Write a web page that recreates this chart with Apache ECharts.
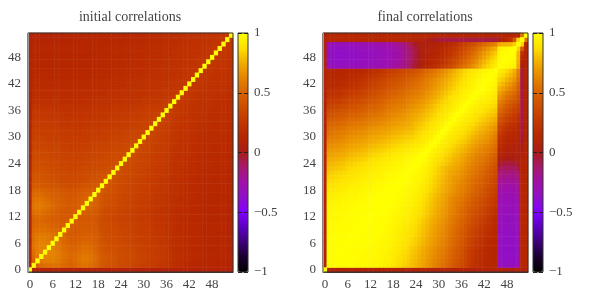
<!DOCTYPE html>
<html><head><meta charset="utf-8">
<style>html,body{margin:0;padding:0;background:#fff}#c{width:591px;height:295px}</style>
<script src="https://cdn.jsdelivr.net/npm/echarts@6/dist/echarts.min.js"></script>
</head><body><div id="c"></div>
<script>
const titles = ['initial correlations','final correlations'];
const barTicks = [-1,-0.5,0,0.5,1];
const palette = ['#000000','#1a0030','#3c0078','#5c00c0','#8000ff','#9010c8','#a010a8','#a81870','#a81c18','#b62600','#c23600','#cd4c00','#d96400','#e68400','#f2ac00','#fde000','#ffff00'];
// Symmetric matrices in percent: row i holds columns 0..i.
const initialRows = [
[100],
[8,100],
[8,48,100],
[8,52,58,100],
[8,54,60,62,100],
[8,55,60,62,62,100],
[8,55,60,62,62,60,100],
[8,54,58,60,60,58,56,100],
[8,54,57,58,58,57,55,54,100],
[8,52,54,55,55,53,52,51,50,100],
[8,50,52,53,53,51,50,48,47,48,100],
[8,48,50,51,50,49,47,46,45,45,46,100],
[8,50,52,52,51,49,47,46,45,44,44,45,100],
[8,53,55,55,53,51,49,47,46,45,44,44,45,100],
[8,56,58,58,56,54,51,49,47,46,45,45,45,47,100],
[8,56,58,58,56,54,52,49,47,46,45,45,45,47,50,100],
[8,54,56,56,54,52,50,48,47,46,45,44,44,46,49,50,100],
[8,51,53,53,51,50,48,47,46,45,44,43,43,45,47,48,49,100],
[8,49,50,50,49,47,46,45,44,43,42,41,42,43,45,46,47,47,100],
[8,44,45,45,44,43,42,41,40,39,38,38,38,39,41,42,43,43,44,100],
[8,42,43,43,42,41,40,39,38,37,37,36,36,37,38,39,40,40,41,42,100],
[8,41,42,42,41,40,39,38,37,36,36,35,35,36,37,38,39,39,40,41,42,100],
[8,40,41,41,40,39,38,37,36,36,35,34,34,35,36,37,38,38,39,39,40,41,100],
[8,38,39,39,39,38,37,36,35,35,34,33,33,34,35,36,36,37,37,38,38,39,40,100],
[8,37,38,38,38,37,36,35,34,34,33,32,32,33,34,34,35,35,36,36,37,37,38,39,100],
[8,36,37,37,37,36,35,34,33,33,32,32,31,32,33,33,34,34,35,35,36,36,37,37,38,100],
[8,35,36,36,36,35,34,33,33,32,32,31,31,31,32,32,33,33,34,34,35,35,36,36,37,38,100],
[8,34,35,35,35,34,33,32,32,31,31,30,30,30,31,31,32,32,33,33,34,34,35,35,36,36,37,100],
[8,32,33,33,33,32,32,31,31,30,30,29,29,29,30,30,31,31,32,32,32,33,33,34,34,35,36,37,100],
[8,31,32,32,32,31,31,30,30,29,29,28,28,28,29,29,30,30,31,31,31,32,32,33,33,34,34,35,36,100],
[8,30,31,31,31,30,30,29,29,28,28,27,27,27,28,28,29,29,29,30,30,31,31,32,32,33,33,34,34,35,100],
[8,29,30,30,30,30,29,29,28,28,27,27,26,26,27,27,28,28,28,29,29,30,30,30,31,31,32,32,33,33,34,100],
[8,28,29,29,29,29,28,28,27,27,26,26,25,25,26,26,27,27,27,28,28,28,29,29,30,30,30,31,31,32,32,33,100],
[8,27,28,28,28,28,27,27,26,26,25,25,24,24,25,25,26,26,26,27,27,27,28,28,29,29,29,30,30,31,31,32,32,100],
[8,26,27,27,27,27,26,26,25,25,24,24,24,24,24,25,25,25,26,26,26,27,27,27,28,28,28,29,29,30,30,31,31,32,100],
[8,25,26,26,26,26,25,25,24,24,23,23,23,23,23,24,24,24,25,25,25,26,26,26,27,27,27,28,28,29,29,30,30,31,31,100],
[8,24,25,25,25,25,24,24,23,23,22,22,22,22,22,23,23,23,24,24,24,25,25,25,26,26,26,27,27,27,28,28,29,29,30,30,100],
[8,22,23,23,23,23,22,22,22,21,21,21,20,20,21,21,22,22,22,23,23,23,24,24,24,25,25,25,26,26,26,27,27,28,28,29,30,100],
[8,19,20,20,20,20,20,20,19,19,19,19,19,19,19,20,20,20,21,21,21,21,22,22,22,23,23,23,24,24,25,25,25,26,26,27,27,28,100],
[8,18,19,19,19,19,19,19,19,18,18,18,18,18,19,19,19,20,20,20,20,21,21,21,22,22,22,23,23,23,24,24,25,25,25,26,26,27,28,100],
[8,17,18,18,18,18,18,18,18,18,17,17,17,17,18,18,18,19,19,19,19,20,20,20,21,21,21,22,22,22,23,23,23,24,24,25,25,25,26,27,100],
[8,16,17,17,17,17,17,17,17,17,17,16,16,17,17,17,17,18,18,18,18,19,19,19,20,20,20,21,21,21,22,22,22,23,23,24,24,24,25,25,26,100],
[8,15,16,16,16,16,16,16,16,16,16,16,16,16,16,16,17,17,17,17,18,18,18,19,19,19,20,20,20,21,21,21,22,22,23,23,23,24,24,25,25,26,100],
[8,14,15,15,15,15,15,15,15,15,15,15,15,15,15,15,16,16,16,16,17,17,17,18,18,18,19,19,19,20,20,20,21,21,22,22,22,23,23,24,24,25,25,100],
[8,14,14,15,15,15,15,15,15,15,15,15,15,15,15,15,15,15,16,16,16,16,17,17,17,18,18,18,19,19,19,20,20,20,21,21,21,22,22,23,23,24,24,25,100],
[8,13,14,14,14,14,14,14,14,14,14,14,14,14,14,14,15,15,15,15,16,16,16,16,17,17,17,18,18,18,19,19,19,20,20,21,21,21,22,22,23,23,24,24,25,100],
[8,13,13,13,13,13,13,13,13,13,13,13,13,13,13,14,14,14,14,15,15,15,15,16,16,16,17,17,17,18,18,18,19,19,20,20,20,21,21,22,22,23,23,24,24,25,100],
[8,12,13,13,13,13,13,13,13,13,13,13,13,13,13,13,14,14,14,14,15,15,15,15,16,16,16,17,17,17,18,18,18,19,19,19,20,20,21,21,22,22,23,23,24,24,25,100],
[8,12,12,13,13,13,13,13,13,13,13,13,13,13,13,13,13,14,14,14,14,15,15,15,15,16,16,16,17,17,17,18,18,18,19,19,19,20,20,21,21,22,22,23,23,24,24,25,100],
[8,12,12,12,12,12,12,12,12,12,12,12,12,13,13,13,13,13,14,14,14,14,15,15,15,15,16,16,16,17,17,17,18,18,18,19,19,19,20,20,21,21,22,22,23,23,24,24,25,100],
[8,12,12,12,12,12,12,12,12,12,12,12,12,12,12,13,13,13,13,14,14,14,14,15,15,15,15,16,16,16,17,17,17,18,18,18,19,19,19,20,20,21,21,22,22,23,23,24,24,25,100],
[8,11,11,12,12,12,12,12,12,12,12,12,12,12,12,12,13,13,13,13,14,14,14,14,15,15,15,15,16,16,16,17,17,17,18,18,18,19,19,19,20,20,21,21,22,22,23,23,24,24,25,100],
[8,11,11,11,11,11,11,11,11,11,11,11,11,12,12,12,12,12,13,13,13,13,14,14,14,14,15,15,15,16,16,16,16,17,17,17,18,18,18,19,19,20,20,21,21,22,22,23,23,24,24,25,100],
[8,10,10,10,10,10,10,10,10,10,11,11,11,11,11,12,12,12,12,13,13,13,13,14,14,14,14,15,15,15,15,16,16,16,17,17,17,18,18,18,19,19,20,20,21,21,22,22,23,23,24,24,25,100]
];
const finalRows = [
[100],
[8,99],
[8,99,99],
[8,99,99,100],
[8,99,99,99,100],
[8,99,99,99,100,100],
[8,99,99,99,99,100,100],
[8,99,99,99,99,99,100,100],
[8,98,99,99,99,99,99,100,100],
[8,98,98,99,99,99,99,99,100,100],
[8,98,98,98,99,99,99,99,99,100,100],
[8,97,98,98,98,99,99,99,99,99,100,100],
[8,97,97,98,98,98,99,99,99,99,99,100,100],
[8,96,97,97,98,98,98,99,99,99,99,99,100,100],
[8,96,96,97,97,97,98,98,99,99,99,99,99,100,100],
[8,95,96,96,96,97,97,98,98,99,99,99,99,100,100,100],
[8,93,94,95,95,96,96,97,97,98,98,99,99,99,100,100,100],
[8,92,93,93,94,95,95,96,96,97,97,98,98,99,99,100,100,100],
[8,90,91,92,92,93,94,95,95,96,96,97,97,98,99,99,100,100,100],
[8,88,89,90,91,91,92,93,94,94,95,96,96,97,98,98,99,99,100,100],
[8,86,87,88,89,90,90,91,92,93,94,95,95,96,97,97,98,99,99,100,100],
[8,84,85,86,87,88,89,90,90,91,92,93,94,95,95,96,97,98,98,99,99,100],
[8,82,83,84,85,86,87,88,89,90,91,92,93,94,94,95,96,97,97,98,99,99,100],
[8,79,80,81,82,83,85,86,87,88,89,90,91,92,93,94,95,95,96,97,97,98,99,100],
[8,77,78,79,80,81,83,84,85,86,87,88,89,90,91,92,93,94,95,96,96,97,98,99,100],
[8,74,75,76,77,78,80,81,82,83,84,85,87,88,89,90,91,92,93,94,95,96,97,98,99,100],
[8,71,72,73,74,75,77,78,79,80,81,82,84,85,86,87,88,89,91,92,93,94,95,96,97,99,100],
[8,68,69,70,71,72,74,75,76,77,78,79,81,82,83,84,85,86,88,89,90,91,92,93,95,96,98,100],
[8,65,66,67,68,69,71,72,73,74,75,76,78,79,80,81,82,83,85,86,87,88,89,90,92,93,95,97,100],
[8,62,63,64,65,66,68,69,70,71,72,73,75,76,77,78,79,80,82,83,84,85,86,87,89,90,92,94,97,100],
[8,58,60,61,62,63,65,66,67,68,69,70,72,73,74,75,76,77,79,80,81,82,83,84,86,88,90,92,94,97,100],
[8,55,57,58,59,60,62,63,64,65,66,67,69,70,71,72,73,74,76,77,78,79,80,81,84,86,88,90,92,94,97,100],
[8,52,54,55,56,57,59,60,61,62,63,64,66,67,68,69,70,71,73,74,75,76,77,78,81,83,85,87,90,92,94,97,100],
[8,48,50,51,52,53,55,56,57,58,59,60,62,63,64,65,66,68,70,71,72,73,74,76,79,81,83,85,88,90,92,94,97,100],
[8,44,46,47,48,49,51,52,53,54,55,57,58,60,61,62,63,65,67,68,69,70,72,74,76,78,80,83,85,88,90,92,94,97,100],
[8,40,42,43,44,45,47,48,49,50,52,53,55,56,57,58,60,62,64,65,66,68,70,72,74,76,78,80,83,85,88,90,92,95,97,100],
[8,36,38,39,40,41,43,44,45,46,48,49,51,52,53,55,57,59,61,62,63,65,67,69,71,73,75,78,80,83,86,88,90,92,95,97,100],
[8,32,33,34,35,37,39,40,41,43,44,46,48,49,50,52,54,56,58,59,60,62,64,66,68,70,72,75,78,81,84,86,88,90,92,95,97,100],
[8,27,28,29,30,32,34,35,37,38,40,42,44,45,47,49,51,53,55,56,57,59,61,63,65,67,69,72,75,78,81,84,86,88,91,93,95,97,100],
[8,23,24,25,26,28,30,31,33,34,36,38,40,41,43,45,47,49,51,53,54,56,58,60,62,64,66,69,72,75,78,81,84,87,89,91,93,95,97,100],
[8,20,20,21,22,24,26,27,29,30,32,34,36,38,40,42,44,46,48,49,51,53,55,57,59,61,63,66,69,72,75,78,81,84,87,89,92,94,96,98,100],
[8,17,17,18,19,20,22,23,25,26,28,30,32,34,36,38,40,42,44,46,48,50,52,54,56,58,60,63,66,69,72,75,78,81,84,87,90,92,94,96,98,100],
[8,15,15,15,16,17,19,20,21,23,25,27,29,31,33,35,37,39,41,43,45,47,49,51,54,56,58,61,64,67,70,73,76,79,82,85,88,90,93,95,97,99,100],
[8,14,14,14,14,15,16,17,19,20,22,24,26,28,30,32,34,36,38,40,42,44,46,48,51,53,56,59,62,65,68,71,74,77,80,83,86,89,92,94,96,98,99,100],
[8,13,13,13,13,14,15,16,17,18,19,21,22,24,26,28,30,32,34,36,38,40,42,44,46,49,52,55,58,61,64,67,70,74,78,81,84,87,90,92,94,96,98,99,100],
[8,12,12,12,12,12,13,13,14,15,16,17,18,20,22,24,26,28,30,32,34,36,38,40,42,45,48,51,54,57,60,63,67,71,75,79,82,85,88,90,92,94,96,97,98,100],
[8,-32,-33,-34,-34,-34,-33,-33,-33,-33,-32,-32,-31,-30,-30,-29,-28,-26,-25,-22,-20,-17,-13,-8,-3,4,9,12,15,19,23,27,31,36,41,46,51,56,61,66,71,76,81,85,89,92,100],
[8,-33,-35,-36,-36,-36,-35,-35,-34,-34,-33,-33,-33,-32,-31,-30,-30,-28,-26,-24,-22,-18,-14,-10,-5,2,7,10,12,15,18,22,26,31,36,41,46,51,56,61,66,72,77,82,86,90,98,100],
[8,-34,-36,-37,-37,-37,-36,-36,-35,-35,-34,-34,-34,-33,-32,-31,-30,-29,-27,-25,-22,-19,-15,-10,-6,1,6,8,10,12,15,18,22,26,31,36,41,46,51,56,61,67,72,77,82,86,97,99,100],
[8,-34,-36,-37,-37,-37,-36,-36,-35,-35,-34,-34,-34,-33,-32,-31,-30,-29,-27,-25,-22,-19,-15,-10,-6,1,5,7,9,11,13,16,19,23,27,32,37,42,47,52,57,63,68,73,78,82,96,98,99,100],
[8,-33,-35,-36,-36,-36,-35,-35,-34,-34,-33,-33,-33,-32,-31,-30,-30,-28,-26,-24,-22,-18,-14,-10,-5,2,5,7,8,10,12,14,17,20,24,28,32,37,42,47,52,57,62,67,72,76,94,96,98,99,100],
[8,-30,-32,-33,-33,-33,-32,-32,-31,-31,-30,-30,-30,-29,-28,-27,-26,-25,-23,-21,-18,-15,-11,-6,-2,4,5,6,7,8,9,11,13,16,19,23,27,31,35,39,43,47,51,55,59,62,74,76,77,78,84,100],
[8,13,13,13,13,13,13,13,13,13,13,13,13,13,13,13,13,13,13,12,12,12,11,11,10,9,7,4,1,-2,-4,-5,-5,-6,-6,-6,-6,-6,-6,-6,-6,-6,-6,-5,-5,-5,2,8,14,22,45,85,100],
[8,12,12,12,12,12,12,12,12,12,12,12,12,12,12,12,12,12,12,12,12,12,12,12,12,11,11,11,11,10,10,10,10,10,10,10,10,10,10,10,10,10,10,10,10,10,10,10,10,10,12,14,55,100]
];
function cells(rows){
  const out=[],diag=[];
  rows.forEach((row,i)=>row.forEach((v,j)=>{
    if(i===j){diag.push([j,i,v/100]);return;}
    out.push([j,i,v/100]);
    out.push([i,j,v/100]);
  }));
  return out.concat(diag);
}
const cats = initialRows.map((_,i)=>String(i));
const font = {fontFamily:'"Liberation Serif",serif',fontSize:13,color:'#444'};
const panels = [
 {left:28,barLeft:238,cx:125,rows:initialRows},
 {left:323,barLeft:533,cx:420,rows:finalRows}
];
const plotTop=33,plotH=239,plotW=205,barW=10;
const option={animation:false,backgroundColor:'#fff',
 title:[],grid:[],xAxis:[],yAxis:[],series:[],visualMap:[]};
panels.forEach((p,k)=>{
 option.title.push({text:titles[k],left:p.cx,top:5,textAlign:'center',textStyle:{...font,fontSize:14,fontWeight:'normal'}});
 option.grid.push({left:p.left,top:plotTop,width:plotW,height:plotH,show:true,z:5,backgroundColor:'transparent',borderColor:'#333',borderWidth:1});
 option.xAxis.push({type:'category',gridIndex:2*k,data:cats,
   axisLabel:{...font,interval:5,margin:6,hideOverlap:false},axisTick:{show:false},axisLine:{lineStyle:{color:'#333'}},splitLine:{show:false}});
 option.yAxis.push({type:'category',gridIndex:2*k,data:cats,
   axisLabel:{...font,interval:5,margin:7},axisTick:{show:false},axisLine:{show:true,lineStyle:{color:'#999',width:1}},splitLine:{show:false},z:6});
 option.series.push({type:'heatmap',xAxisIndex:2*k,yAxisIndex:2*k,data:cells(p.rows),progressive:0,silent:true,
   itemStyle:{borderWidth:0},emphasis:{disabled:true}});
 option.visualMap.push({type:'continuous',seriesIndex:k,dimension:2,min:barTicks[0],max:barTicks[4],
   left:p.barLeft,top:plotTop,itemWidth:barW,itemHeight:plotH,padding:0,calculable:false,hoverLink:false,inRange:{color:palette},z:4});
 option.grid.push({left:p.barLeft,top:plotTop,width:barW,height:plotH,show:true,z:5,backgroundColor:'transparent',borderColor:'#333',borderWidth:1});
 option.xAxis.push({type:'value',gridIndex:2*k+1,min:0,max:1,show:false});
 option.yAxis.push({type:'value',gridIndex:2*k+1,min:-1,max:1,interval:0.5,position:'right',z:6,
   axisLabel:{...font,margin:6,formatter:v=>String(v).replace('-','\u2212')},axisTick:{show:false},axisLine:{show:false},
   splitLine:{show:true,lineStyle:{color:'#222',type:'dashed',width:1}}});
});
echarts.init(document.getElementById('c'),null,{renderer:'canvas'}).setOption(option);
</script>
</body></html>
